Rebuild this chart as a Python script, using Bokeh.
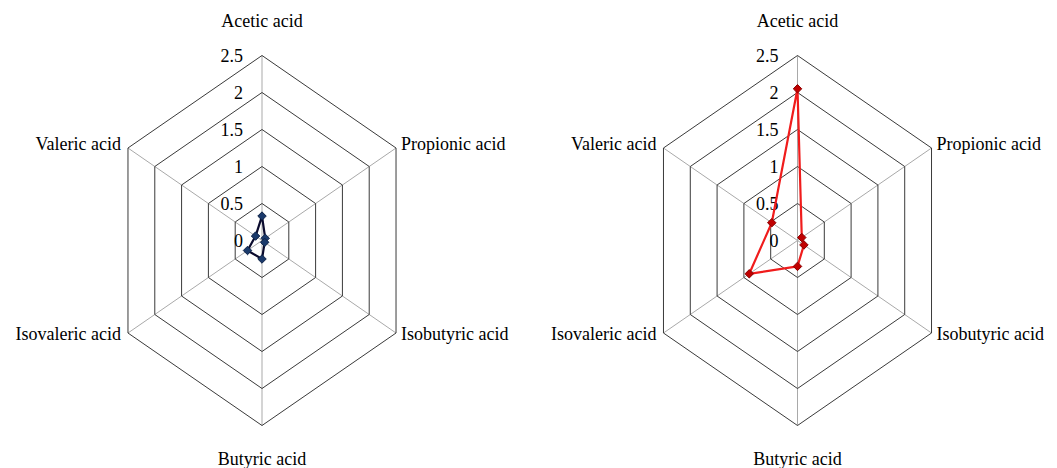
import numpy as np
from bokeh.plotting import figure
from bokeh.models import Range1d, ColumnDataSource
from bokeh.core.properties import value
from bokeh.embed import file_html
from bokeh.resources import INLINE

# ---------------- data ----------------
categories = ["Acetic acid", "Propionic acid", "Isobutyric acid",
              "Butyric acid", "Isovaleric acid", "Valeric acid"]
control_values = [0.33, 0.06, 0.05, 0.25, 0.27, 0.12]
treated_values = [2.05, 0.08, 0.12, 0.35, 0.90, 0.48]
tick_values = [0, 0.5, 1.0, 1.5, 2.0, 2.5]
tick_labels = ["0", "0.5", "1", "1.5", "2", "2.5"]
r_max = 2.5

# ---------------- layout ----------------
W, H = 1057, 468
px_x, px_y = 61.9, 74.0          # pixels per unit
left_px, top_px = 261.5, 240.0   # left chart center in frame pixels
right_px = 797.0
cx_left = 0.0
cx_right = (right_px - left_px) / px_x

p = figure(width=W, height=H, output_backend="svg", toolbar_location=None,
           x_range=Range1d(-left_px / px_x, (W - left_px) / px_x),
           y_range=Range1d(-(H - top_px) / px_y, top_px / px_y),
           min_border=0)
p.axis.visible = False
p.grid.visible = False
p.outline_line_color = None
p.background_fill_color = "white"
p.border_fill_color = "white"

n = len(categories)
ang = np.arange(n) * 2 * np.pi / n
sx, cy = np.sin(ang), np.cos(ang)

FONT = value("Liberation Serif")

# label placement (align, x_offset, y_offset) per category
lab_align = ["center", "left", "left", "center", "right", "right"]
lab_dx = [0, 5, 5, 0, -7, -7]
lab_dy = [-35, -4, 1, 33, 1, -4]


def radar(cx, vals, line_color, marker_fill, marker_line):
    # rings
    xs, ys = [], []
    for t in tick_values[1:]:
        xs.append(list(cx + t * np.append(sx, sx[0])))
        ys.append(list(t * np.append(cy, cy[0])))
    # spokes
    p.segment(x0=[cx] * n, y0=[0] * n, x1=list(cx + r_max * sx), y1=list(r_max * cy),
              line_color="#a9a9a9", line_width=1)
    p.multi_line(xs=xs, ys=ys, line_color="#3a3a3a", line_width=1)
    # tick labels
    p.text(x=[cx] * len(tick_values), y=tick_values, text=tick_labels,
           text_font=FONT, text_font_size="18px", text_color="black",
           text_align="right", text_baseline="middle", x_offset=-19)
    # category labels
    src = ColumnDataSource(dict(x=list(cx + r_max * sx), y=list(r_max * cy), t=categories,
                                a=lab_align, dx=lab_dx, dy=lab_dy))
    p.text(x="x", y="y", text="t", source=src, text_font=FONT, text_font_size="18px",
           text_color="black", text_align="a", text_baseline="middle",
           x_offset="dx", y_offset="dy")
    # series
    v = np.array(vals)
    vx = cx + v * sx
    vy = v * cy
    p.line(x=list(np.append(vx, vx[0])), y=list(np.append(vy, vy[0])),
           line_color=line_color, line_width=2.2)
    p.scatter(x=list(vx), y=list(vy), marker="square", size=6, angle=np.pi / 4,
              fill_color=marker_fill, line_color=marker_line, line_width=1)


radar(cx_left, control_values, "#0b0b2e", "#1b3a6b", "#0f2347")
radar(cx_right, treated_values, "#f01c1c", "#c00000", "#8a0000")

open("out.html", "w").write(file_html(p, INLINE))
